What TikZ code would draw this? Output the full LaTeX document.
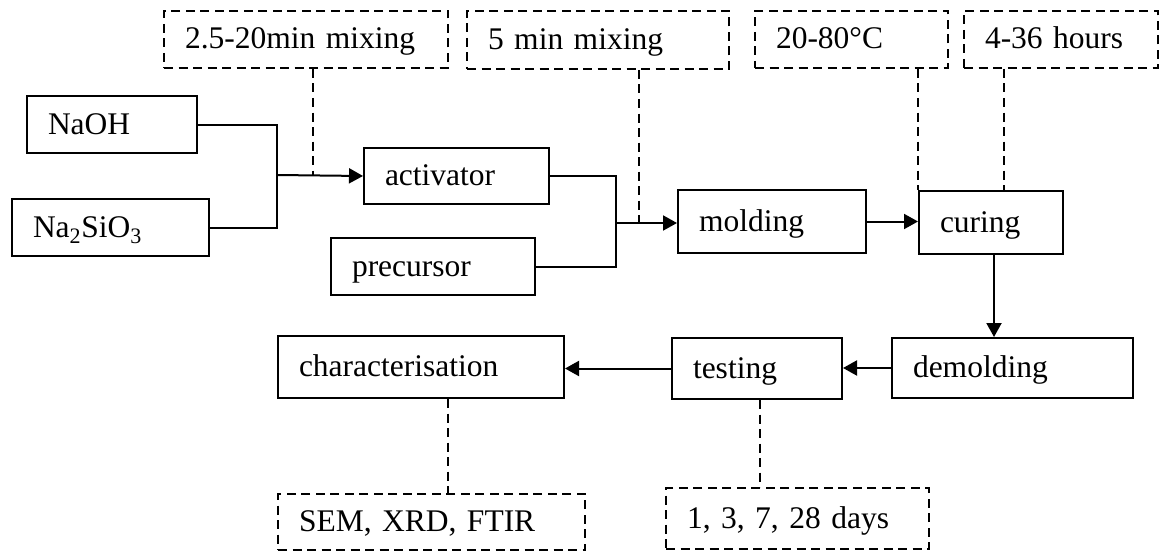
\documentclass[tikz,border=0pt]{standalone}
\usepackage{fontspec}
\setmainfont{Liberation Serif}
\usetikzlibrary{arrows.meta}
\begin{document}
\begin{tikzpicture}[x=1pt,y=-1pt,
  lw/.style={line width=2pt},
  stage/.style={draw, lw, rectangle, anchor=north west, inner xsep=21pt,
    inner ysep=0pt, align=left, text height=19pt, text depth=0pt,
    font=\fontsize{31.5}{38}\selectfont},
  note/.style={stage, dash pattern=on 9pt off 5.5pt},
  link/.style={lw},
  flow/.style={lw, -{Triangle[length=14pt,width=15pt]}},
  tie/.style={lw, dash pattern=on 9pt off 5.5pt},
]
\useasboundingbox (0,0) rectangle (1160,551);

% process conditions (dashed notes)
\node[note, minimum width=284pt, minimum height=57pt, text width=242pt] (d1) at (163,10) {2.5-20min mixing};
\node[note, minimum width=262pt, minimum height=58pt, text width=220pt] (d2) at (466,10) {5 min mixing};
\node[note, minimum width=193pt, minimum height=57pt, text width=151pt] (d3) at (754,10) {20-80°C};
\node[note, minimum width=194pt, minimum height=57pt, text width=152pt] (d4) at (963,10) {4-36 hours};
\node[note, minimum width=307pt, minimum height=56pt, text width=265pt] (d5) at (277,493) {SEM, XRD, FTIR};
\node[note, minimum width=263pt, minimum height=61pt, text width=221pt] (d6) at (665,487) {1, 3, 7, 28 days};

% process stages
\node[stage, minimum width=170pt, minimum height=57pt, text width=128pt] (naoh) at (26,95) {NaOH};
\node[stage, minimum width=197pt, minimum height=57pt, text width=155pt] (na2) at (11,198) {Na\textsubscript{2}SiO\textsubscript{3}};
\node[stage, minimum width=185pt, minimum height=56pt, text width=143pt] (act) at (363,147) {activator};
\node[stage, minimum width=204pt, minimum height=57pt, text width=162pt] (prec) at (330,237) {precursor};
\node[stage, minimum width=188pt, minimum height=63pt, text width=146pt] (mold) at (677,189) {molding};
\node[stage, minimum width=144pt, minimum height=63pt, text width=102pt] (cur) at (918,190) {curing};
\node[stage, minimum width=241pt, minimum height=60pt, text width=199pt] (dem) at (891,337) {demolding};
\node[stage, minimum width=170pt, minimum height=61pt, text width=128pt] (test) at (671,337) {testing};
\node[stage, minimum width=286pt, minimum height=62pt, text width=244pt] (char) at (277,335) {characterisation};

% junctions and tap points
\coordinate (j1) at (277,175);
\coordinate (j2) at (616,223);
\coordinate (m1) at (313,0);
\coordinate (m2) at (639,0);
\coordinate (m4) at (1004,0);
\coordinate (m5) at (994,0);
\coordinate (m6) at (448,0);
\coordinate (m7) at (760,0);

% solid flow
\draw[link] (naoh.east) -| (j1) |- (na2.east);
\draw[flow] (j1) -- (act.west);
\draw[link] (act.east) -| (j2) |- (prec.east);
\draw[flow] (j2) -- (j2 -| mold.west);
\draw[flow] (mold.east) -- (mold.east -| cur.west);
\draw[flow] (cur.south -| m5) -- (m5 |- dem.north);
\draw[flow] (dem.west) -- (dem.west -| test.east);
\draw[flow] (test.west) -- (test.west -| char.east);

% dashed ties to the notes
\draw[tie] (d1.south -| m1) -- (m1 |- act.west);
\draw[tie] (d2.south -| m2) -- (m2 |- j2);
\draw[tie] (d3.south -| cur.north west) -- (cur.north west);
\draw[tie] (d4.south -| m4) -- (m4 |- cur.north);
\draw[tie] (char.south -| m6) -- (m6 |- d5.north);
\draw[tie] (test.south -| m7) -- (m7 |- d6.north);
\end{tikzpicture}
\end{document}
